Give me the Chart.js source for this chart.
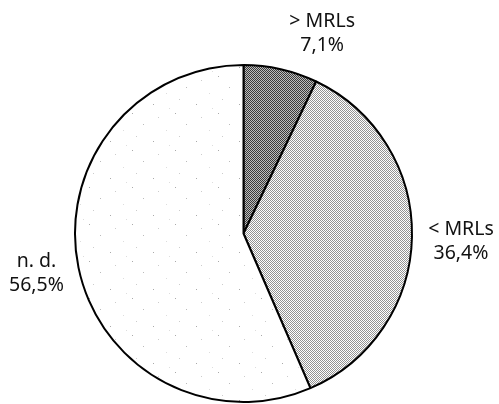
<!DOCTYPE html>
<html>
<head>
<meta charset="utf-8">
<script src="https://cdn.jsdelivr.net/npm/chart.js@4"></script>
<style>
html,body{margin:0;padding:0;background:#fff;}
#wrap{width:499px;height:404px;position:relative;}
</style>
</head>
<body>
<div id="wrap"><canvas id="c" width="499" height="404"></canvas></div>
<script>
const categories = ['> MRLs', '< MRLs', 'n. d.'];
const values = [7.1, 36.4, 56.5];

function checker(a, b) {
  const p = document.createElement('canvas');
  p.width = 2; p.height = 2;
  const g = p.getContext('2d');
  g.fillStyle = a; g.fillRect(0, 0, 2, 2);
  g.fillStyle = b; g.fillRect(0, 0, 1, 1); g.fillRect(1, 1, 1, 1);
  return g.createPattern(p, 'repeat');
}
function speckle() {
  const p = document.createElement('canvas');
  p.width = 43; p.height = 37;
  const g = p.getContext('2d');
  g.fillStyle = '#fff'; g.fillRect(0, 0, 43, 37);
  const dots = [[3,2,'#aaa'],[29,6,'#ccc'],[14,13,'#bbb'],[37,19,'#ddd'],[7,25,'#ccc'],[24,30,'#aaa'],[40,34,'#ddd']];
  dots.forEach(d => { g.fillStyle = d[2]; g.fillRect(d[0], d[1], 1, 1); });
  return g.createPattern(p, 'repeat');
}
const fills = [checker('#bdbdbd', '#3a3a3a'), checker('#ffffff', '#939393'), speckle()];
const labelOffsets = [[31, 10], [2, 4], [4, -4]];

const labelPlugin = {
  id: 'sliceLabels',
  afterDatasetsDraw(chart) {
    const ctx = chart.ctx;
    const meta = chart.getDatasetMeta(0);
    ctx.save();
    ctx.font = '19.5px "Noto Sans", "DejaVu Sans", sans-serif';
    ctx.fillStyle = '#111';
    ctx.textAlign = 'center';
    ctx.textBaseline = 'middle';
    meta.data.forEach((arc, i) => {
      const mid = (arc.startAngle + arc.endAngle) / 2;
      const d = arc.outerRadius + 47;
      const x = arc.x + Math.cos(mid) * d + labelOffsets[i][0];
      const y = arc.y + Math.sin(mid) * d + labelOffsets[i][1];
      const pct = values[i].toFixed(1).replace('.', ',') + '%';
      ctx.fillText(categories[i], x, y - 12);
      ctx.fillText(pct, x, y + 12);
    });
    ctx.restore();
  }
};

new Chart(document.getElementById('c'), {
  type: 'pie',
  data: {
    labels: categories,
    datasets: [{
      data: values,
      backgroundColor: fills,
      borderColor: '#000',
      borderWidth: 2,
      hoverOffset: 0
    }]
  },
  options: {
    responsive: false,
    animation: false,
    layout: { padding: { left: 74, right: 86, top: 64, bottom: 1 } },
    plugins: { legend: { display: false }, tooltip: { enabled: false } }
  },
  plugins: [labelPlugin]
});
</script>
</body>
</html>
